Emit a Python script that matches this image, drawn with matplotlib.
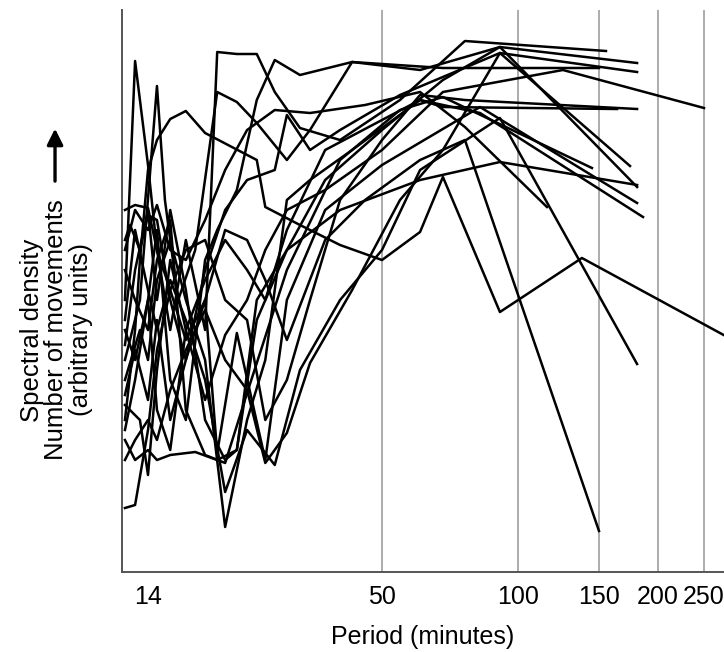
import numpy as np
import matplotlib
matplotlib.use("Agg")
import matplotlib.pyplot as plt

plt.rcParams['font.family'] = ['Liberation Sans', 'DejaVu Sans']

# --- spectra: period (minutes) and spectral density (arbitrary units) ---
p01 = [12.35, 13.05, 14, 14.7, 15.8, 17.2, 19.1, 20.4, 22.7, 25.3, 27.9, 32.0, 39.8, 54.8, 76.3, 155.2]
d01 = [272, 511, 407, 322, 242, 332, 242, 520, 518, 518, 480, 444, 432, 472, 531, 521]

p02 = [12.35, 13.4, 14.7, 15.35, 16.5, 18.1, 20.4, 22.7, 25.3, 29.8, 33.8, 42.5, 60.7, 91.2, 180.6]
d02 = [212, 272, 486, 372, 272, 322, 480, 470, 449, 412, 442, 510, 502, 525, 509]

p03 = [12.35, 13.05, 13.4, 14, 14.7, 15.8, 17.2, 19.1, 25.3, 26.5, 32.0, 39.8, 50, 60.7, 68.2, 91.2, 137.7, 275]
d03 = [152, 242, 312, 402, 432, 453, 461, 439, 412, 365, 347, 327, 312, 340, 395, 260, 314, 237]

p04 = [12.35, 12.7, 13.4, 14, 14.7, 15.8, 17.2, 19.1, 21.3, 24.0, 27.9, 29.8, 33.8, 39.8, 54.8, 91.2, 174.5]
d04 = [332, 347, 322, 357, 352, 272, 212, 302, 362, 392, 402, 457, 422, 442, 477, 519, 406]

p05 = [12.35, 13.05, 14, 14.7, 15.8, 17.2, 19.1, 20.4, 22.7, 25.3, 27.9, 32.0, 42.5, 68.2, 150]
d05 = [142, 192, 272, 342, 192, 152, 312, 342, 382, 472, 512, 497, 510, 504, 504]

p06 = [12.35, 13.4, 14, 14.7, 15.8, 17.2, 19.1, 21.3, 24.0, 26.5, 29.8, 36.7, 50, 68.2, 125.2, 250]
d06 = [167, 152, 97, 202, 312, 242, 172, 237, 272, 322, 362, 382, 422, 480, 502, 464]

p07 = [12.35, 13.05, 14, 14.7, 15.8, 17.2, 19.1, 21.3, 24.0, 26.5, 29.8, 33.8, 39.8, 50, 60.7, 76.3, 180.6]
d07 = [64, 67, 142, 222, 282, 322, 332, 272, 252, 152, 192, 272, 372, 432, 477, 472, 463]

p08 = [12.35, 13.05, 14, 14.7, 15.8, 17.2, 19.1, 21.3, 24.0, 26.5, 29.8, 36.7, 50, 60.7, 68.2, 163.8]
d08 = [242, 212, 272, 162, 122, 242, 292, 332, 302, 272, 342, 422, 452, 472, 465, 463]

p09 = [12.35, 13.05, 14, 14.7, 15.8, 17.2, 19.1, 21.3, 22.7, 25.3, 29.8, 36.7, 50, 68.2, 91.2, 180.6]
d09 = [227, 302, 362, 272, 362, 282, 152, 112, 122, 272, 322, 392, 442, 492, 525, 385]

p10 = [12.35, 13.05, 14, 14.7, 15.8, 17.2, 19.1, 21.3, 24.0, 29.8, 39.8, 54.8, 68.2, 144.8]
d10 = [302, 272, 242, 312, 352, 162, 117, 109, 179, 302, 412, 462, 475, 404]

p11 = [12.35, 13.05, 14, 14.7, 15.8, 18.1, 20.4, 22.7, 25.3, 29.8, 39.8, 60.7, 91.2, 180.6]
d11 = [132, 112, 122, 112, 117, 120, 112, 122, 252, 322, 362, 392, 410, 387]

p12 = [12.35, 13.05, 14, 14.7, 15.8, 17.2, 19.1, 20.4, 22.7, 26.5, 29.8, 36.7, 50, 82.4, 180.6]
d12 = [177, 222, 172, 252, 152, 212, 272, 119, 239, 112, 272, 362, 407, 465, 369]

p13 = [12.35, 13.4, 14, 14.7, 15.8, 17.2, 19.1, 21.3, 24.0, 26.5, 29.8, 33.8, 42.5, 60.7, 82.4, 185.9]
d13 = [192, 242, 212, 292, 332, 272, 212, 45, 152, 212, 372, 392, 422, 472, 459, 355]

p14 = [12.35, 13.05, 14, 14.7, 15.8, 17.2, 19.1, 21.3, 24.0, 27.9, 32.0, 39.8, 50, 60.7, 91.2, 180.6]
d14 = [252, 342, 282, 242, 292, 252, 192, 80, 142, 107, 202, 272, 322, 402, 454, 208]

p15 = [12.35, 13.05, 14, 14.7, 15.8, 17.2, 19.1, 21.3, 24.0, 27.9, 33.8, 45.6, 60.7, 76.3, 115.6]
d15 = [322, 362, 342, 367, 322, 312, 352, 402, 442, 462, 459, 467, 480, 445, 365]

p16 = [12.35, 13.05, 14, 14.7, 15.8, 17.2, 19.1, 21.3, 24.0, 26.5, 29.8, 36.7, 45.6, 60.7, 76.3, 150]
d16 = [362, 367, 364, 322, 282, 232, 272, 342, 332, 292, 232, 332, 372, 412, 432, 41]

p17 = [12.35, 13.05, 14, 14.7, 15.8, 17.2, 19.1, 21.3, 24.0, 26.5, 29.8, 33.8, 42.5, 54.8, 68.2, 91.2, 180.6]
d17 = [112, 132, 152, 132, 182, 222, 262, 212, 182, 109, 139, 209, 282, 372, 422, 519, 500]

periods = [p01, p02, p03, p04, p05, p06, p07, p08, p09, p10, p11, p12, p13, p14, p15, p16, p17]
densities = [d01, d02, d03, d04, d05, d06, d07, d08, d09, d10, d11, d12, d13, d14, d15, d16, d17]

tick_periods = [14, 50, 100, 150, 200, 250]
grid_periods = [50, 100, 150, 200, 250]

# the period axis of the original is roughly logarithmic but hand spaced;
# warp it piecewise in log(period) through the labelled ticks
knot_p = np.log(np.array(tick_periods, dtype=float))
knot_u = np.array([0.0, 234.0, 370.0, 451.0, 510.0, 556.0])
slope_lo = (knot_u[1] - knot_u[0]) / (knot_p[1] - knot_p[0])
slope_hi = (knot_u[-1] - knot_u[-2]) / (knot_p[-1] - knot_p[-2])


def forward(p):
    lp = np.log(np.clip(np.asarray(p, dtype=float), 1e-6, None))
    u = np.interp(lp, knot_p, knot_u)
    u = np.where(lp < knot_p[0], knot_u[0] + (lp - knot_p[0]) * slope_lo, u)
    u = np.where(lp > knot_p[-1], knot_u[-1] + (lp - knot_p[-1]) * slope_hi, u)
    return u


def inverse(u):
    u = np.asarray(u, dtype=float)
    lp = np.interp(u, knot_u, knot_p)
    lp = np.where(u < knot_u[0], knot_p[0] + (u - knot_u[0]) / slope_lo, lp)
    lp = np.where(u > knot_u[-1], knot_p[-1] + (u - knot_u[-1]) / slope_hi, lp)
    return np.exp(lp)


fig = plt.figure(figsize=(7.24, 6.52), dpi=100)
ax = fig.add_axes([122 / 724, 80 / 652, 602 / 724, 562 / 652])
ax.set_xscale('function', functions=(forward, inverse))

for gp in grid_periods:
    ax.axvline(gp, color='#a6a6a6', lw=1.3, zorder=1)

for p, d in zip(periods, densities):
    ax.plot(p, d, color='black', lw=1.8, zorder=3)

ax.set_xlim(float(inverse(-26.0)), float(inverse(576.0)))
ax.set_ylim(0, 562)

ax.set_xticks(tick_periods)
ax.set_xticklabels([str(t) for t in tick_periods], fontsize=18)
ax.xaxis.set_minor_locator(matplotlib.ticker.NullLocator())
ax.set_yticks([])
ax.tick_params(axis='x', length=0, pad=9)

for side in ['top', 'right']:
    ax.spines[side].set_visible(False)
for side in ['left', 'bottom']:
    ax.spines[side].set_color('#555555')
    ax.spines[side].set_linewidth(1.4)

ax.set_xlabel('Period (minutes)', fontsize=18, labelpad=12)

fig.text(0.078, 0.494, 'Spectral density\nNumber of movements\n(arbitrary units)',
         rotation=90, ha='center', va='center', fontsize=18.5,
         multialignment='center', linespacing=1.05)
ax.annotate('', xy=(0.076, 0.807), xytext=(0.076, 0.718),
            xycoords='figure fraction', textcoords='figure fraction',
            arrowprops=dict(arrowstyle='-|>', color='black', lw=2.4,
                            mutation_scale=24))

fig.savefig('out.png', dpi=100)
